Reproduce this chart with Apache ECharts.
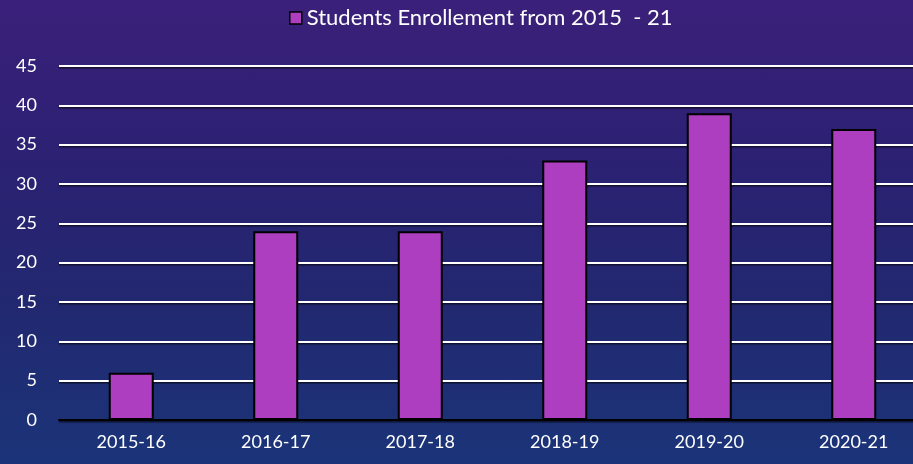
<!DOCTYPE html>
<html>
<head>
<meta charset="utf-8">
<style>
html,body{margin:0;padding:0;width:913px;height:464px;overflow:hidden;}
body{background:linear-gradient(180deg,#3b207a 0%,#2b2173 35%,#222870 65%,#1b3479 100%);}
#chart{width:913px;height:464px;}
</style>
<script src="https://cdn.jsdelivr.net/npm/echarts@6/dist/echarts.min.js"></script>
</head>
<body>
<div id="chart"></div>
<script>
var years = ["2015-16", "2016-17", "2017-18", "2018-19", "2019-20", "2020-21"];
var enrolled = [6, 24, 24, 33, 39, 37];
var seriesName = "Students Enrollement from 2015  - 21";

var font = "Lato, 'Open Sans', sans-serif";
var chart = echarts.init(document.getElementById("chart"), null, { renderer: "canvas" });
chart.setOption({
  backgroundColor: "transparent",
  animation: false,
  textStyle: { fontFamily: font },
  legend: {
    top: 2,
    left: 284,
    itemWidth: 12,
    itemHeight: 12,
    itemGap: 6,
    textStyle: { color: "#ffffff", fontSize: 22, fontFamily: font },
    itemStyle: { borderColor: "#000000", borderWidth: 1.5 },
    data: [{ name: seriesName, icon: "rect" }]
  },
  grid: { left: 59, top: 66, width: 867, height: 354, outerBoundsMode: "none" },
  xAxis: {
    type: "category",
    data: years,
    axisLine: { lineStyle: { color: "#000000", width: 2 } },
    axisTick: { show: false },
    axisLabel: { color: "#ffffff", fontSize: 18, margin: 13, fontFamily: font }
  },
  yAxis: {
    type: "value",
    min: 0,
    max: 45,
    interval: 5,
    axisLine: { show: false },
    axisTick: { show: false },
    axisLabel: { color: "#ffffff", fontSize: 18, margin: 22, fontFamily: font },
    splitLine: {
      lineStyle: {
        color: "#ffffff",
        width: 2,
        shadowColor: "rgba(0,0,0,0.6)",
        shadowOffsetY: 1.5,
        shadowBlur: 1
      }
    }
  },
  series: [{
    name: seriesName,
    type: "bar",
    data: enrolled,
    barWidth: 45,
    itemStyle: { color: "#ae3ec0", borderColor: "#000000", borderWidth: 2 }
  }]
});
</script>
</body>
</html>
